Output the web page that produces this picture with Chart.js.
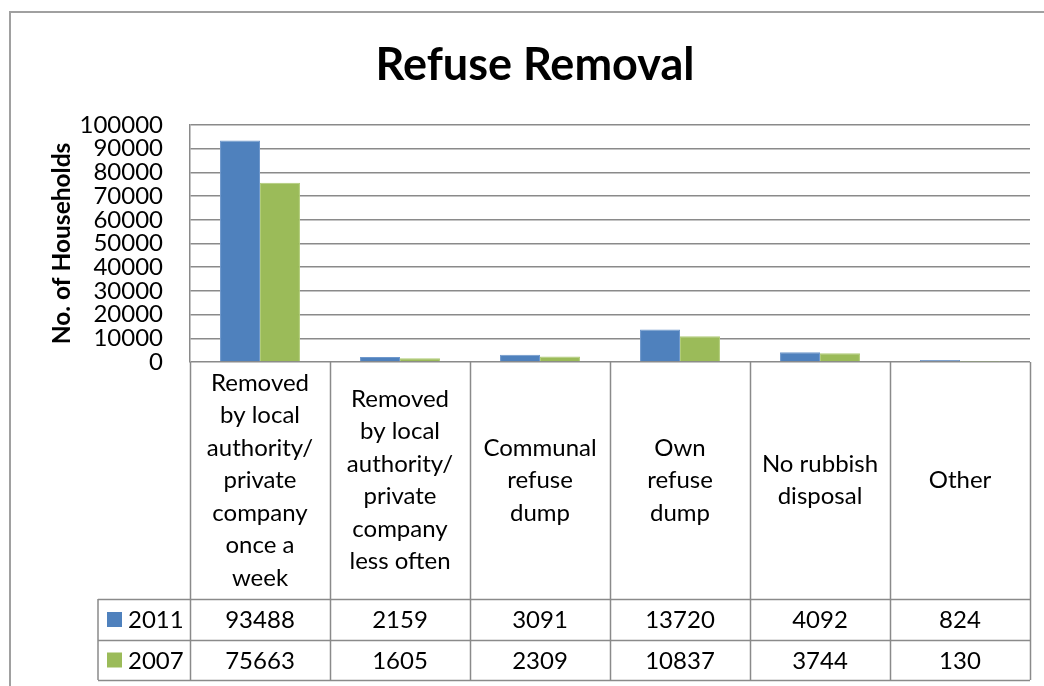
<!DOCTYPE html>
<html>
<head>
<meta charset="utf-8">
<title>Refuse Removal</title>
<script src="https://cdn.jsdelivr.net/npm/chart.js@4.4.0/dist/chart.umd.min.js"></script>
<style>
  html, body { margin: 0; padding: 0; background: #fff; }
  #wrap { width: 1044px; height: 686px; }
</style>
</head>
<body>
<div id="wrap"><canvas id="refuseChart"></canvas></div>
<script>
// Chart data
const categories = [
    ['Removed', 'by local', 'authority/', 'private', 'company', 'once a', 'week'],
    ['Removed', 'by local', 'authority/', 'private', 'company', 'less often'],
    ['Communal', 'refuse', 'dump'],
    ['Own', 'refuse', 'dump'],
    ['No rubbish', 'disposal'],
    ['Other']
];
const seriesNames = ['2011', '2007'];
const values2011 = [93488, 2159, 3091, 13720, 4092, 824];
const values2007 = [75663, 1605, 2309, 10837, 3744, 130];
const yTicks = [0, 10000, 20000, 30000, 40000, 50000, 60000, 70000, 80000, 90000, 100000];

const BLUE = '#4F81BD';
const GREEN = '#9BBB59';
const LINE = '#8a8a8a';
const FONT = 'Lato, "Open Sans", sans-serif';
const TEXT_SIZE = 24;

// Draws the outer frame, the title and the Excel-like data table
const tablePlugin = {
    id: 'dataTable',
    afterDraw(chart) {
        const ctx = chart.ctx;
        const area = chart.chartArea;
        const xs = chart.scales.x;
        const half = (xs.getPixelForValue(1) - xs.getPixelForValue(0)) / 2;
        const legendLeft = 98;
        const rowTop = 599, rowMid = 640, rowBottom = 680;

        ctx.save();
        // outer frame
        ctx.strokeStyle = '#a0a0a0';
        ctx.lineWidth = 2;
        ctx.strokeRect(10, 12, 1060, 700);

        // title
        ctx.fillStyle = '#000';
        ctx.font = 'bold 45px ' + FONT;
        ctx.textAlign = 'center';
        ctx.textBaseline = 'alphabetic';
        ctx.fillText('Refuse Removal', 535, 80);

        // table grid
        ctx.strokeStyle = LINE;
        ctx.lineWidth = 1.5;
        ctx.beginPath();
        for (let i = 0; i <= categories.length; i++) {
            const x = Math.round(xs.getPixelForValue(i) - half) + 0.5;
            ctx.moveTo(x, area.bottom);
            ctx.lineTo(x, rowBottom);
        }
        ctx.moveTo(legendLeft, rowTop);
        ctx.lineTo(legendLeft, rowBottom);
        [rowTop, rowMid, rowBottom].forEach(y => {
            ctx.moveTo(legendLeft, y + 0.5);
            ctx.lineTo(area.right, y + 0.5);
        });
        ctx.stroke();

        // category labels
        ctx.font = TEXT_SIZE + 'px ' + FONT;
        ctx.textBaseline = 'middle';
        ctx.fillStyle = '#000';
        const lineH = 32.5;
        const cellMid = (area.bottom + rowTop) / 2;
        categories.forEach((lines, i) => {
            const cx = xs.getPixelForValue(i);
            const y0 = cellMid - (lines.length - 1) * lineH / 2;
            lines.forEach((t, j) => ctx.fillText(t, cx, y0 + j * lineH));
        });

        // value rows
        const rows = [values2011, values2007];
        const colors = [BLUE, GREEN];
        const rowYs = [(rowTop + rowMid) / 2, (rowMid + rowBottom) / 2];
        rows.forEach((vals, r) => {
            const y = rowYs[r];
            ctx.fillStyle = colors[r];
            ctx.fillRect(107, y - 7.5, 15, 15);
            ctx.fillStyle = '#000';
            ctx.textAlign = 'left';
            ctx.fillText(seriesNames[r], 128, y + 1);
            ctx.textAlign = 'center';
            vals.forEach((v, i) => ctx.fillText(String(v), xs.getPixelForValue(i), y + 1));
        });
        ctx.restore();
    }
};

const ctx = document.getElementById('refuseChart').getContext('2d');
new Chart(ctx, {
    type: 'bar',
    data: {
        labels: categories,
        datasets: [{
            label: seriesNames[0],
            data: values2011,
            backgroundColor: BLUE,
            borderColor: '#6f98cc',
            borderWidth: 1,
            categoryPercentage: 0.571,
            barPercentage: 1.0
        }, {
            label: seriesNames[1],
            data: values2007,
            backgroundColor: GREEN,
            borderColor: '#b0cc78',
            borderWidth: 1,
            categoryPercentage: 0.571,
            barPercentage: 1.0
        }]
    },
    options: {
        responsive: true,
        maintainAspectRatio: false,
        animation: false,
        layout: {
            padding: { left: 40, top: 125, right: 14, bottom: 324 }
        },
        scales: {
            x: {
                display: false
            },
            y: {
                min: 0,
                max: 100000,
                afterBuildTicks: function(scale) {
                    scale.ticks = yTicks.map(v => ({ value: v }));
                },
                afterFit: function(scale) {
                    scale.width = 150;
                },
                ticks: {
                    color: '#000',
                    padding: 27,
                    autoSkip: false,
                    callback: function(value) {
                        return String(value);
                    },
                    font: { family: FONT, size: TEXT_SIZE }
                },
                grid: {
                    color: LINE,
                    lineWidth: 1.5,
                    drawTicks: false
                },
                border: {
                    color: LINE,
                    width: 1.5
                },
                title: {
                    display: true,
                    text: 'No. of Households',
                    color: '#000',
                    padding: { top: 7, bottom: 0 },
                    font: { family: FONT, size: 24.5, weight: 'bold' }
                }
            }
        },
        plugins: {
            legend: { display: false },
            title: { display: false },
            tooltip: { enabled: false }
        }
    },
    plugins: [tablePlugin]
});
</script>
</body>
</html>
